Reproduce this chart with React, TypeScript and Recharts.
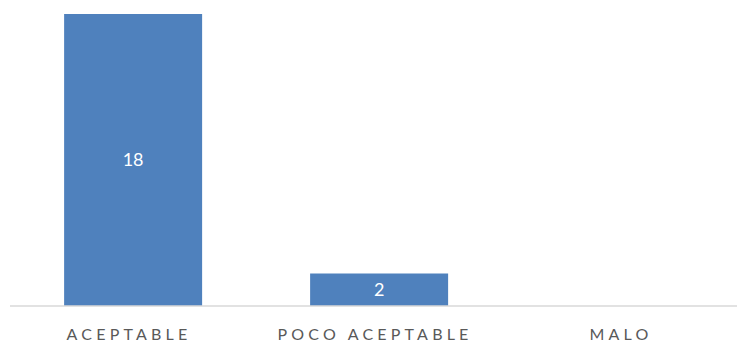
import React from "react";
import { BarChart, Bar, XAxis, YAxis, LabelList } from "recharts";

const categories = ["ACEPTABLE", "POCO ACEPTABLE", "MALO"];
const counts = [18, 2, 0];

const data = categories.map((name, i) => ({ name, value: counts[i] }));

const FONT = "Lato, 'Open Sans', sans-serif";

const SpacedTick = (props: any) => {
  const { x, y, payload } = props;
  return (
    <text
      x={x - 4}
      y={y + 26}
      textAnchor="middle"
      fill="#595959"
      fontSize={16}
      fontFamily={FONT}
      style={{ letterSpacing: "4.2px" }}
    >
      {payload.value}
    </text>
  );
};

export default function App() {
  return (
    <div
      style={{
        position: "absolute",
        left: 0,
        top: 0,
        width: 737,
        height: 343,
        overflow: "hidden",
        background: "#ffffff",
      }}
    >
      <BarChart
        width={760}
        height={343}
        data={data}
        margin={{ top: 14, right: 12, bottom: 0, left: 10 }}
        barCategoryGap="22%"
      >
        <XAxis
          dataKey="name"
          height={37}
          axisLine={{ stroke: "#d9d9d9", strokeWidth: 1.5 }}
          tickLine={false}
          interval={0}
          tick={<SpacedTick />}
        />
        <YAxis hide domain={[0, 18]} />
        <Bar dataKey="value" fill="#4f81bd" isAnimationActive={false}>
          <LabelList
            dataKey="value"
            position="center"
            fill="#ffffff"
            fontSize={18}
            fontFamily={FONT}
          />
        </Bar>
      </BarChart>
    </div>
  );
}
